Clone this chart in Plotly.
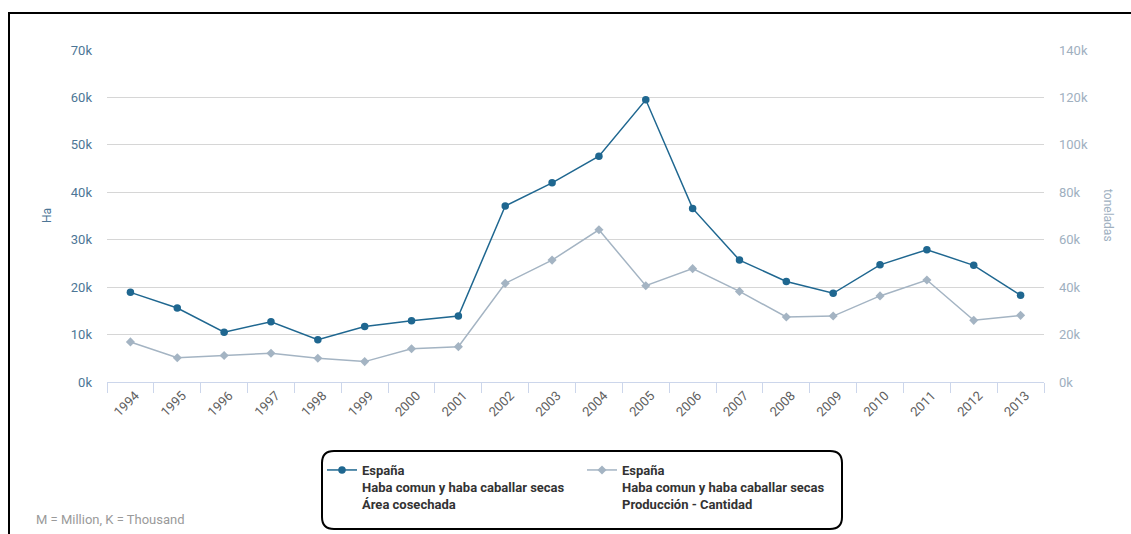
import plotly.graph_objects as go

# Haba común y haba caballar secas, España 1994-2013
years = [str(y) for y in range(1994, 2014)]
area_ha = [18900, 15600, 10500, 12700, 8900, 11700, 12900, 13900, 37100, 42000,
           47600, 59500, 36600, 25700, 21200, 18700, 24700, 27900, 24600, 18300]
produccion_t = [16900, 10200, 11200, 12100, 10000, 8600, 14000, 14900, 41600, 51400,
                64200, 40600, 47800, 38200, 27400, 27800, 36300, 43000, 26000, 28100]

left_ticks = [0, 10000, 20000, 30000, 40000, 50000, 60000, 70000]
left_labels = ["0k", "10k", "20k", "30k", "40k", "50k", "60k", "70k"]
right_ticks = [0, 20000, 40000, 60000, 80000, 100000, 120000, 140000]
right_labels = ["0k", "20k", "40k", "60k", "80k", "100k", "120k", "140k"]

name_area = "<b>España</b><br><b>Haba comun y haba caballar secas</b><br><b>Área cosechada</b>"
name_prod = "<b>España</b><br><b>Haba comun y haba caballar secas</b><br><b>Producción - Cantidad</b>"

W, H = 1131, 534
ML, MR, MT, MB = 107, 87, 50, 152
PW, PH = W - ML - MR, H - MT - MB


def px(x):
    return (x - ML) / PW


def py(y):
    return (H - MB - y) / PH


DARK = "#1f6790"
LIGHT = "#a4b4c3"

fig = go.Figure()
fig.add_trace(go.Scatter(
    x=years, y=area_ha, name=name_area, mode="lines+markers",
    line=dict(color=DARK, width=1.5),
    marker=dict(symbol="circle", size=7.5, color=DARK),
    yaxis="y",
))
fig.add_trace(go.Scatter(
    x=years, y=produccion_t, name=name_prod, mode="lines+markers",
    line=dict(color=LIGHT, width=1.5),
    marker=dict(symbol="diamond", size=7, color=LIGHT),
    yaxis="y2",
))


def rounded_rect(x0, y0, x1, y1, r):
    pts = [
        f"M {px(x0 + r)},{py(y0)}",
        f"L {px(x1 - r)},{py(y0)}",
        f"Q {px(x1)},{py(y0)} {px(x1)},{py(y0 + r)}",
        f"L {px(x1)},{py(y1 - r)}",
        f"Q {px(x1)},{py(y1)} {px(x1 - r)},{py(y1)}",
        f"L {px(x0 + r)},{py(y1)}",
        f"Q {px(x0)},{py(y1)} {px(x0)},{py(y1 - r)}",
        f"L {px(x0)},{py(y0 + r)}",
        f"Q {px(x0)},{py(y0)} {px(x0 + r)},{py(y0)}",
        "Z",
    ]
    return " ".join(pts)


shapes = [
    # outer frame (right and bottom edges run past the page)
    dict(type="rect", xref="paper", yref="paper",
         x0=px(9), x1=px(1145), y0=py(560), y1=py(13),
         line=dict(color="#000000", width=2), fillcolor="rgba(0,0,0,0)", layer="below"),
    # legend box
    dict(type="path", xref="paper", yref="paper",
         path=rounded_rect(322, 451, 842, 529, 12),
         line=dict(color="#000000", width=2), fillcolor="rgba(0,0,0,0)"),
]

annotations = [
    dict(text="Ha", xref="paper", yref="paper", x=px(47), y=py(216),
         showarrow=False, textangle=-90, font=dict(family="Roboto", size=12, color="#4d7696"),
         xanchor="center", yanchor="middle"),
    dict(text="toneladas", xref="paper", yref="paper", x=px(1108), y=py(215),
         showarrow=False, textangle=90, font=dict(family="Roboto", size=12, color="#a0b0bf"),
         xanchor="center", yanchor="middle"),
    dict(text="M = Million, K = Thousand", xref="paper", yref="paper", x=px(34), y=py(519),
         showarrow=False, font=dict(family="Roboto", size=13, color="#9a9a9a"),
         xanchor="left", yanchor="middle"),
]

fig.update_layout(
    width=W, height=H, autosize=False,
    margin=dict(l=ML, r=MR, t=MT, b=MB),
    paper_bgcolor="#ffffff", plot_bgcolor="#ffffff",
    font=dict(family="Roboto", size=13, color="#333333"),
    shapes=shapes, annotations=annotations,
    showlegend=True,
    legend=dict(
        orientation="h", x=px(322), y=py(455), xanchor="left", yanchor="top",
        bgcolor="rgba(0,0,0,0)", borderwidth=0, valign="top",
        font=dict(family="Roboto", size=13, color="#333333"),
        entrywidth=215, entrywidthmode="pixels", itemwidth=30,
    ),
    xaxis=dict(
        type="category", range=[-0.5, 19.5], showgrid=False,
        showline=True, linecolor="#ccd6eb", linewidth=1,
        ticks="outside", tickson="boundaries", ticklen=10, tickcolor="#ccd6eb",
        tickangle=-45, ticklabelshift=5,
        tickfont=dict(family="Roboto", size=13, color="#606060"),
        fixedrange=True,
    ),
    yaxis=dict(
        range=[0, 70000], tickvals=left_ticks, ticktext=left_labels,
        showgrid=True, gridcolor="#d6d6d6", gridwidth=1, zeroline=False,
        showline=False, ticks="", ticklabelstandoff=14,
        tickfont=dict(family="Roboto", size=13, color="#4d7696"),
    ),
    yaxis2=dict(
        range=[0, 140000], tickvals=right_ticks, ticktext=right_labels,
        overlaying="y", side="right", showgrid=False, zeroline=False,
        showline=False, ticks="", ticklabelstandoff=14,
        tickfont=dict(family="Roboto", size=13, color="#a0b0bf"),
    ),
)

fig.write_html("out.html")
